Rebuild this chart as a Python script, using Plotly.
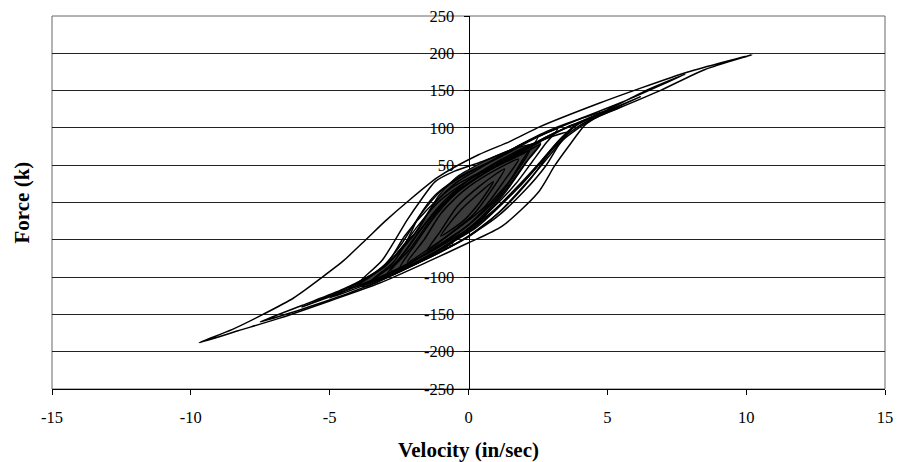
import plotly.graph_objects as go

# ---- data (velocity in/sec, force k) ----
# largest loop (reaches both tips)
loopA_v = [-9.7, -8.5, -7.4, -6.3, -5.3, -4.5, -3.7, -3.0, -2.2, -1.1, 0.36, 1.5, 2.6, 4.7, 6.1, 7.9, 10.2,
           8.5, 6.9, 5.5, 4.7, 4.2, 3.6, 3.1, 2.5, 1.2, 0.0, -1.5, -3.2, -5.0, -6.8, -8.3, -9.7]
loopA_f = [-188, -170, -150, -128, -101, -78, -50, -25, 1, 34, 64, 82, 102, 133, 152, 175, 198,
           178, 150, 128, 116, 104, 75, 49, 13, -32, -54, -80, -108, -132, -155, -172, -188]

# second largest loop
loopF_v = [-7.5, -6.0, -4.5, -3.2, -2.4, -1.8, -1.0, 0.0, 1.2, 2.5, 4.0, 5.5, 7.8,
           6.5, 5.0, 3.8, 3.3, 2.6, 1.6, 0.5, -0.8, -2.5, -4.2, -6.0, -7.5]
loopF_f = [-160, -138, -116, -90, -55, -20, 15, 40, 62, 88, 112, 134, 172,
           152, 124, 102, 85, 55, 15, -25, -58, -93, -120, -143, -160]

# medium loops
loopB_v = [-4.3, -3.0, -2.0, -1.3, -0.5, 0.5, 1.5, 2.8, 4.5, 5.5,
           4.5, 3.6, 3.0, 2.2, 1.2, 0.0, -1.5, -3.0, -4.3]
loopB_f = [-115, -85, -45, -5, 25, 48, 70, 95, 118, 128,
           112, 90, 70, 30, -10, -45, -75, -100, -115]

loopC_v = [-3.5, -2.7, -2.2, -1.8, -1.2, -0.3, 0.8, 2.0, 3.2,
           2.8, 2.3, 1.7, 0.8, -0.3, -1.8, -3.5]
loopC_f = [-105, -80, -50, -20, 10, 35, 55, 80, 98,
           80, 55, 25, -10, -45, -80, -105]

loopD_v = [-4.0, -3.1, -2.2, -1.7, -1.2, -0.5, 0.5, 1.5, 2.5,
           2.0, 1.5, 0.8, 0.0, -1.2, -2.5, -4.0]
loopD_f = [-110, -77, -23, 4, 28, 42, 55, 70, 88,
           60, 30, 0, -30, -60, -90, -110]

loopE_v = [-3.0, -2.2, -1.5, -0.8, 0.2, 1.2, 2.4, 3.6,
           3.1, 2.2, 1.1, 0.0, -1.5, -3.0]
loopE_f = [-100, -62, -25, 5, 35, 58, 80, 94,
           71, 31, -13, -46, -75, -100]

loopH_v = [-6.0, -4.8, -3.6, -2.6, -1.9, -1.1, 0.0, 1.4, 2.8, 4.3, 6.2,
           5.0, 4.0, 3.4, 2.7, 1.8, 0.6, -0.9, -2.6, -4.4, -6.0]
loopH_f = [-140, -122, -100, -70, -35, 0, 30, 58, 88, 112, 142,
           122, 106, 88, 58, 20, -20, -56, -90, -118, -140]

loopK_v = [-5.0, -3.8, -2.9, -2.3, -1.5, -0.6, 0.6, 1.8, 3.2, 4.8,
           4.0, 3.2, 2.4, 1.4, 0.3, -1.2, -2.9, -5.0]
loopK_f = [-128, -106, -80, -45, -10, 20, 44, 68, 95, 120,
           103, 80, 45, 5, -33, -66, -98, -128]

loopM_v = [-2.5, -1.9, -1.2, -0.4, 0.6, 1.7, 2.8, 3.8,
           3.3, 2.8, 2.0, 1.0, 0.0, -1.2, -2.5]
loopM_f = [-90, -55, -18, 14, 40, 63, 86, 105,
           80, 50, 15, -20, -45, -70, -90]

# dense core outline
core_v = [-4.0, -3.0, -2.3, -1.8, -1.1, -0.4, 0.4, 1.2, 2.0, 2.6,
          2.2, 1.4, 0.8, 0.25, -0.4, -1.0, -1.8, -2.7, -3.7, -4.0]
core_f = [-110, -86, -55, -36, 8, 35, 52, 66, 76, 80,
          60, 17, -10, -32, -48, -66, -81, -97, -113, -110]

# small loops inside the core
g1_v = [-3.6, -2.6, -1.8, -1.0, 0.0, 1.0, 2.0, 2.6, 2.1, 1.3, 0.4, -0.6, -1.8, -3.6]
g1_f = [-108, -80, -40, -5, 25, 48, 66, 78, 55, 15, -22, -52, -80, -108]
g2_v = [-2.8, -2.1, -1.4, -0.6, 0.5, 1.6, 2.2, 1.8, 1.0, 0.0, -1.2, -2.8]
g2_f = [-92, -62, -25, 10, 38, 60, 70, 45, 5, -30, -62, -92]
g3_v = [-2.2, -1.6, -1.0, -0.2, 0.8, 1.8, 1.3, 0.6, -0.4, -2.2]
g3_f = [-80, -50, -15, 15, 40, 58, 30, -5, -35, -80]
g4_v = [-1.5, -1.0, -0.4, 0.4, 1.3, 0.8, 0.2, -0.6, -1.5]
g4_f = [-65, -38, -5, 22, 45, 15, -15, -40, -65]
g5_v = [-1.0, -0.4, 0.3, 0.9, 0.4, -0.2, -1.0]
g5_f = [-45, -15, 10, 28, 0, -25, -45]

x_ticks = [-15, -10, -5, 0, 5, 10, 15]
x_labels = ["-15", "-10", "-5", "0", "5", "10", "15"]
y_ticks = [-250, -200, -150, -100, -50, 0, 50, 100, 150, 200, 250]
y_labels = ["-250", "-200", "-150", "-100", "-50", "0", "50", "100", "150", "200", "250"]

SERIF = "Liberation Serif, Times New Roman, serif"

fig = go.Figure()

fig.add_trace(go.Scatter(x=core_v, y=core_f, mode="lines", fill="toself",
                         fillcolor="#3c3c3c", line=dict(color="black", width=1.2, shape="spline", smoothing=0.6),
                         hoverinfo="skip", showlegend=False))

for vv, ff in [(loopA_v, loopA_f), (loopF_v, loopF_f), (loopH_v, loopH_f), (loopK_v, loopK_f),
               (loopB_v, loopB_f), (loopC_v, loopC_f), (loopM_v, loopM_f),
               (loopD_v, loopD_f), (loopE_v, loopE_f), (g1_v, g1_f), (g2_v, g2_f),
               (g3_v, g3_f), (g4_v, g4_f), (g5_v, g5_f)]:
    fig.add_trace(go.Scatter(x=vv, y=ff, mode="lines",
                             line=dict(color="black", width=1.5, shape="spline", smoothing=0.7),
                             hoverinfo="skip", showlegend=False))

fig.update_layout(
    width=897, height=462,
    margin=dict(l=52, r=12, t=16, b=73),
    paper_bgcolor="white", plot_bgcolor="white",
    font=dict(family=SERIF, size=16.5, color="black"),
    showlegend=False,
    xaxis=dict(range=[-15, 15], tickvals=x_ticks, ticktext=x_labels, showgrid=False, zeroline=False,
               showline=True, linecolor="black", linewidth=1, automargin=False,
               ticks="outside", ticklen=5, tickcolor="black", ticklabelstandoff=8,
               tickfont=dict(family=SERIF, size=16.5)),
    yaxis=dict(range=[-250, 250], tickvals=y_ticks, ticktext=y_labels, anchor="free", position=0.5,
               showgrid=True, gridcolor="#222", gridwidth=1, zeroline=False, automargin=False,
               showline=True, linecolor="black", linewidth=1, layer="below traces",
               ticks="outside", ticklen=5, tickcolor="black", ticklabelstandoff=6,
               tickfont=dict(family=SERIF, size=16.5)),
    shapes=[dict(type="rect", xref="paper", yref="paper", x0=0, x1=1, y0=0, y1=1,
                 line=dict(color="#666", width=1), layer="below")],
    annotations=[
        dict(text="<b>Velocity (in/sec)</b>", xref="paper", yref="paper", x=0.5, y=0,
             xanchor="center", yanchor="middle", yshift=-61, showarrow=False,
             font=dict(family=SERIF, size=21)),
        dict(text="<b>Force (k)</b>", xref="paper", yref="paper", x=0, y=0.5,
             xanchor="center", yanchor="middle", xshift=-31, textangle=-90, showarrow=False,
             font=dict(family=SERIF, size=21)),
    ],
)

fig.write_html("out.html", config={"displayModeBar": False},
               post_script="document.body.style.margin='0';")
